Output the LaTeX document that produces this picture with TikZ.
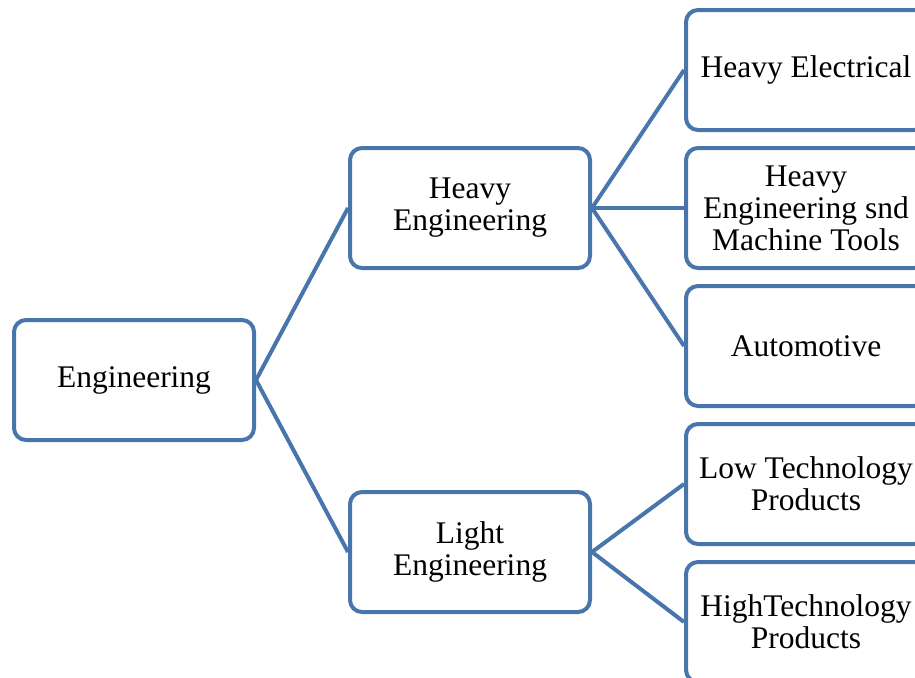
\documentclass[tikz,border=0pt]{standalone}
\usepackage{fontspec}
\setmainfont{Liberation Serif}
\usepackage{tikz}
\usetikzlibrary{shapes}

\definecolor{boxblue}{RGB}{72,117,172}

\tikzset{
  unit/.style={draw=boxblue, line width=2pt, fill=white, rounded corners=6pt,
    minimum width=120pt, minimum height=60pt, align=center,
    font=\fontsize{15.75}{16}\selectfont},
  link/.style={draw=boxblue, line width=2pt}
}

\begin{document}
\begin{tikzpicture}[x=0.5pt,y=0.5pt]
\clip (0,0) rectangle (915,677);

\node[unit] (eng) at (134,297) {Engineering};

\node[unit] (heavy) at (470,469) {Heavy\\Engineering};
\node[unit] (light) at (470,125) {Light\\Engineering};

\node[unit] (helec) at (806,607) {Heavy Electrical};
\node[unit] (hmach) at (806,469) {Heavy\\Engineering snd\\Machine Tools};
\node[unit] (auto)  at (806,331) {Automotive};
\node[unit] (lowt)  at (806,193) {Low Technology\\Products};
\node[unit] (hight) at (806,55)  {HighTechnology\\Products};

\draw[link] (eng.east) -- (heavy.west);
\draw[link] (eng.east) -- (light.west);

\draw[link] (heavy.east) -- (helec.west);
\draw[link] (heavy.east) -- (hmach.west);
\draw[link] (heavy.east) -- (auto.west);

\draw[link] (light.east) -- (lowt.west);
\draw[link] (light.east) -- (hight.west);

\end{tikzpicture}
\end{document}
